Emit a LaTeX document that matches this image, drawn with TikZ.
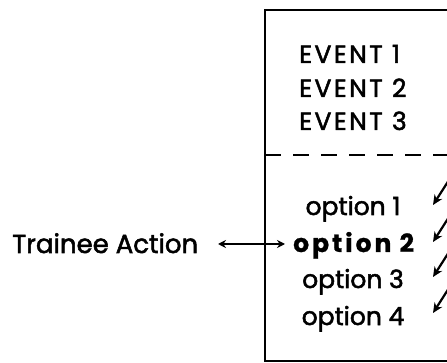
\documentclass[tikz,border=0pt]{standalone}
\usepackage{fontspec}
\setmainfont{Poppins}[FakeBold=2]
\newfontfamily\eventfont{Poppins}[FakeBold=2, LetterSpace=10]
\newfontfamily\boldopt{Poppins}[UprightFont=* Bold, FakeBold=1, LetterSpace=12]
\usetikzlibrary{arrows.meta}
\begin{document}
\begin{tikzpicture}[x=1pt,y=-1pt,
  frame/.style={line width=1.8pt},
  lbl/.style={font=\fontsize{25}{28}\selectfont, inner sep=0pt},
  evt/.style={font=\fontsize{25}{28}\eventfont, inner sep=0pt},
  opt/.style={font=\fontsize{25}{28}\selectfont, inner sep=0pt},
  ptr/.style={line width=2.2pt, -{Stealth[length=10pt,width=9pt]}},
  dbl/.style={line width=2pt, {Stealth[length=8pt,width=8pt]}-{Stealth[length=8pt,width=8pt]}}]
\useasboundingbox (0,0) rectangle (447,363);
\begin{scope}
\clip (0,0) rectangle (447,363);
% outer frame, open to the right
\draw[frame] (265,10) rectangle (480,361);
% divider between events and options
\draw[frame, dash pattern=on 16pt off 12pt] (265,155) -- (447,155);
\end{scope}
% event list
\node[evt, anchor=base west] (ev1) at (299,63) {EVENT 1};
\node[evt, anchor=base west] (ev2) at (299,97) {EVENT 2};
\node[evt, anchor=base west] (ev3) at (299,130) {EVENT 3};
% option list
\node[opt, anchor=base] (op1) at (353,215) {option 1};
\node[opt, anchor=base west, font=\fontsize{25}{28}\boldopt] (op2) at (293,252) {option 2};
\node[opt, anchor=base] (op3) at (353,288) {option 3};
\node[opt, anchor=base] (op4) at (353,325) {option 4};
% trainee action label and its link to the chosen option
\node[lbl, anchor=base west, font=\fontsize{26}{28}\selectfont] (tr) at (12,253) {Trainee Action};
\coordinate (tl) at (218,244);
\coordinate (tr2) at (285,244);
\draw[dbl] (tl) -- (tr2);
% incoming arrows on the right
\foreach \i/\y in {1/205,2/242,3/277,4/313}{
  \coordinate (s\i) at (449,\y-25);
  \coordinate (e\i) at (433,\y);
  \draw[ptr] (s\i) -- (e\i);
}
\end{tikzpicture}
\end{document}
